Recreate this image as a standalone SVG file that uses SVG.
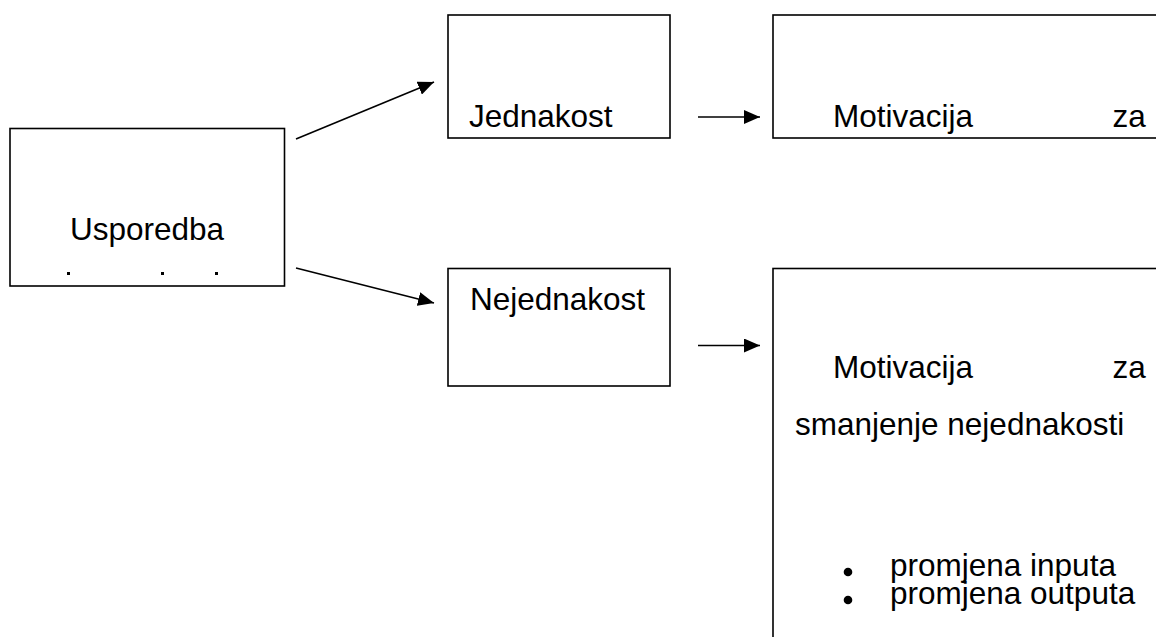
<svg xmlns="http://www.w3.org/2000/svg" width="1156" height="637" viewBox="0 0 1156 637">
<defs>
<style>
.box{fill:#fff;stroke:#000;stroke-width:1.6}
.t{font-family:"Liberation Sans",Arial,sans-serif;font-size:31.5px;fill:#000}
.ln{stroke:#000;stroke-width:1.6;fill:none}
</style>
<marker id="ah" viewBox="0 0 16 14" refX="16" refY="7" markerWidth="16" markerHeight="14" markerUnits="userSpaceOnUse" orient="auto">
<path d="M0,0 L16,7 L0,14 Z" fill="#000"/>
</marker>
</defs>
<rect width="1156" height="637" fill="#fff"/>
<g id="usporedba">
<rect class="box" x="10" y="128.5" width="274.5" height="157.5"/>
<text class="t" x="147" y="240" text-anchor="middle">Usporedba</text>
<rect x="67" y="272" width="3" height="3" fill="#000"/>
<rect x="161" y="272" width="3" height="3" fill="#000"/>
<rect x="215" y="272" width="3" height="3" fill="#000"/>
</g>
<g id="jednakost">
<rect class="box" x="448" y="15" width="222" height="123"/>
<text class="t" x="469" y="127">Jednakost</text>
</g>
<g id="nejednakost">
<rect class="box" x="448" y="268.5" width="222" height="117.5"/>
<text class="t" x="470" y="310">Nejednakost</text>
</g>
<g id="motivacija-top">
<rect class="box" x="773" y="15" width="400" height="123"/>
<text class="t" x="833" y="126.7">Motivacija</text>
<text class="t" x="1112.5" y="126.7">za</text>
</g>
<g id="motivacija-bottom">
<rect class="box" x="773" y="268.5" width="400" height="400"/>
<text class="t" x="833" y="378">Motivacija</text>
<text class="t" x="1112.5" y="378">za</text>
<text class="t" x="795" y="435">smanjenje nejednakosti</text>
<circle cx="848" cy="572" r="4.3" fill="#000"/>
<text class="t" x="890" y="576">promjena inputa</text>
<circle cx="848" cy="600" r="4.3" fill="#000"/>
<text class="t" x="890" y="604">promjena outputa</text>
</g>
<g id="connectors">
<line class="ln" x1="296" y1="139" x2="434" y2="82" marker-end="url(#ah)"/>
<line class="ln" x1="296" y1="268" x2="434" y2="303" marker-end="url(#ah)"/>
<line class="ln" x1="698" y1="117" x2="760" y2="117" marker-end="url(#ah)"/>
<line class="ln" x1="698" y1="345.5" x2="760" y2="345.5" marker-end="url(#ah)"/>
</g>
</svg>
